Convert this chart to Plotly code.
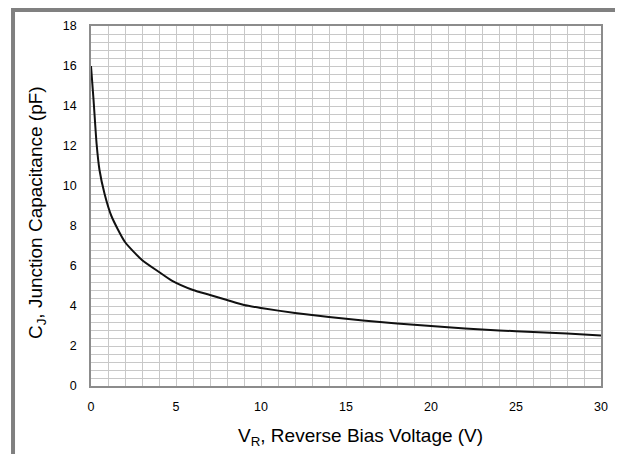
import plotly.graph_objects as go

# Reverse bias voltage (V)
voltage = [0, 0.15, 0.33, 0.5, 0.8, 1.2, 2, 3, 4, 4.75, 6, 7, 8, 9, 10,
           12, 14, 16, 18, 20, 22, 24, 26, 28, 30]
# Junction capacitance (pF)
capacitance = [16.0, 14.3, 12.1, 10.8, 9.6, 8.5, 7.2, 6.3, 5.7, 5.27, 4.8, 4.55,
               4.3, 4.05, 3.9, 3.65, 3.45, 3.28, 3.13, 3.0, 2.88, 2.78, 2.7, 2.62, 2.52]

FONT = "Liberation Sans, Arial, sans-serif"
GRID = "#c8c8c8"

fig = go.Figure()
fig.add_trace(go.Scatter(x=voltage, y=capacitance, mode="lines",
                         line=dict(color="#111111", width=2, shape="spline", smoothing=0.6),
                         showlegend=False))

fig.update_layout(
    width=615, height=446,
    margin=dict(l=83, r=22, t=18, b=68),
    paper_bgcolor="white", plot_bgcolor="white",
    font=dict(family=FONT, color="#000000"),
    xaxis=dict(range=[0, 30], tickmode="linear", tick0=0, dtick=5,
               showgrid=True, gridcolor=GRID, gridwidth=1,
               minor=dict(dtick=1, tick0=0, showgrid=True, gridcolor=GRID, gridwidth=1),
               showline=True, linecolor="#8c8c8c", linewidth=1.5, mirror=True,
               zeroline=False, ticks="", ticklabelstandoff=8,
               tickfont=dict(size=12.5, family=FONT, color="#000000")),
    yaxis=dict(range=[0, 18], tickmode="linear", tick0=0, dtick=2,
               showgrid=True, gridcolor=GRID, gridwidth=1,
               minor=dict(dtick=0.4, tick0=0, showgrid=True, gridcolor=GRID, gridwidth=1),
               showline=True, linecolor="#8c8c8c", linewidth=1.5, mirror=True,
               zeroline=False, ticks="", ticklabelstandoff=10,
               tickfont=dict(size=12.5, family=FONT, color="#000000")),
    annotations=[
        dict(text="V<sub>R</sub>, Reverse Bias Voltage (V)", xref="paper", yref="paper",
             x=0.529, y=-0.142, xanchor="center", yanchor="middle", showarrow=False,
             font=dict(size=19, family=FONT, color="#000000")),
        dict(text="C<sub>J</sub>, Junction Capacitance (pF)", xref="paper", yref="paper",
             x=-0.106, y=0.483, xanchor="center", yanchor="middle", showarrow=False,
             textangle=-90, font=dict(size=19, family=FONT, color="#000000")),
    ],
    shapes=[
        dict(type="rect", xref="paper", yref="paper", x0=-0.1529, x1=1.0363, y0=-0.3, y1=1.0444,
             line=dict(color="#808080", width=4), fillcolor="rgba(0,0,0,0)", layer="below"),
    ],
)

fig.write_html("out.html")
